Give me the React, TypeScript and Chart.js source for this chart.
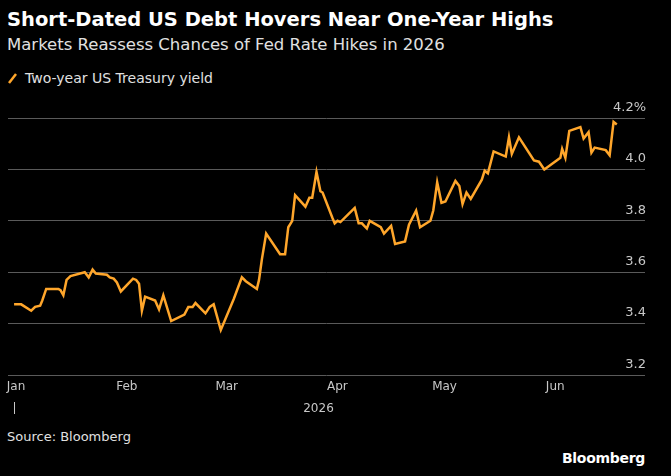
import { useEffect, useRef } from "react";
import { Chart, registerables } from "chart.js";

Chart.register(...registerables);

// day of year (Jan 1 = 0) and two-year yield
const days = [
  0, 2.0, 4.8, 5.9, 7.3, 7.9, 9.0, 12.4, 13.0, 13.8, 14.7, 15.8, 19.8, 20.9, 22.0, 22.9, 26.0, 26.8,
  27.9, 28.8, 29.9, 33.3, 34.2, 35.0, 35.8, 36.7, 39.5, 40.6, 41.8, 44.0, 47.7, 48.8, 50.0, 50.8,
  53.6, 54.8, 55.9, 57.9, 61.5, 63.8, 64.9, 68.0, 68.6, 69.4, 70.6, 74.5, 75.9, 76.8, 77.9, 78.7,
  81.6, 82.7, 83.5, 84.7, 85.8, 86.4, 89.2, 89.8, 90.6, 91.4, 95.4, 96.5, 97.4, 98.8, 99.6, 102.7,
  103.6, 105.6, 106.7, 109.5, 110.6, 112.6, 113.7, 116.6, 117.4, 118.5, 119.7, 120.8, 123.6, 124.7,
  125.6, 126.7, 127.9, 131.0, 131.8, 132.7, 134.3, 137.7, 138.6, 139.4, 141.4, 145.6, 147.0, 148.5,
  153.0, 153.5, 154.4, 155.5, 158.6, 159.5, 160.9, 161.7, 162.6, 165.7, 166.8, 167.9, 168.8,
];
const yields = [
  3.475, 3.475, 3.45, 3.465, 3.47, 3.49, 3.535, 3.535, 3.53, 3.51, 3.57, 3.585, 3.6, 3.58, 3.61,
  3.595, 3.59, 3.58, 3.575, 3.56, 3.525, 3.575, 3.57, 3.555, 3.45, 3.505, 3.49, 3.455, 3.51, 3.41,
  3.435, 3.465, 3.465, 3.48, 3.44, 3.465, 3.475, 3.375, 3.495, 3.58, 3.565, 3.535, 3.57, 3.65, 3.75,
  3.67, 3.67, 3.775, 3.8, 3.9, 3.855, 3.89, 3.89, 3.99, 3.915, 3.91, 3.81, 3.79, 3.8, 3.795, 3.85,
  3.79, 3.79, 3.77, 3.8, 3.775, 3.75, 3.78, 3.71, 3.72, 3.785, 3.84, 3.775, 3.8, 3.84, 3.95, 3.87,
  3.875, 3.955, 3.935, 3.865, 3.91, 3.885, 3.96, 3.995, 3.985, 4.07, 4.05, 4.125, 4.06, 4.125,
  4.035, 4.03, 4.0, 4.045, 4.08, 4.045, 4.15, 4.165, 4.12, 4.145, 4.065, 4.085, 4.075, 4.055,
  4.185, 4.175,
];
const monthDays = [0, 31, 59, 90, 120, 151];
const monthLabels = ["Jan", "Feb", "Mar", "Apr", "May", "Jun"];
const yTicks = [3.2, 3.4, 3.6, 3.8, 4.0, 4.2];

const FONT = "'DejaVu Sans', sans-serif";
const ORANGE = "#ffa62b";

const App = () => {
  const canvasRef = useRef<HTMLCanvasElement>(null);

  useEffect(() => {
    if (!canvasRef.current) return;

    const labelsPlugin = {
      id: "labels",
      afterDraw(chart: any) {
        const { ctx, chartArea } = chart;
        const x = chart.scales.x;
        const y = chart.scales.y;
        ctx.save();
        ctx.font = `13px ${FONT}`;
        ctx.fillStyle = "#c8c8c8";
        ctx.textAlign = "right";
        ctx.textBaseline = "bottom";
        yTicks.forEach((v) => {
          const txt = v === 4.2 ? "4.2%" : v.toFixed(1);
          ctx.fillText(txt, chartArea.right + 1, y.getPixelForValue(v) - 4);
        });
        ctx.font = `12px ${FONT}`;
        ctx.textAlign = "center";
        ctx.textBaseline = "middle";
        monthDays.forEach((d, i) => {
          ctx.fillText(monthLabels[i], x.getPixelForValue(d) + 2, chartArea.bottom + 12);
        });
        ctx.fillText("2026", (chartArea.left + chartArea.right) / 2 - 8, chartArea.bottom + 34);
        ctx.strokeStyle = "#c8c8c8";
        ctx.lineWidth = 1;
        ctx.beginPath();
        const x0 = Math.round(x.getPixelForValue(0)) + 0.5;
        ctx.moveTo(x0, chartArea.bottom + 27);
        ctx.lineTo(x0, chartArea.bottom + 39);
        ctx.stroke();
        ctx.restore();
      },
    };

    const myChart = new Chart(canvasRef.current, {
      type: "line",
      data: {
        datasets: [
          {
            label: "Two-year US Treasury yield",
            data: days.map((d, i) => ({ x: d, y: yields[i] })),
            borderColor: ORANGE,
            borderWidth: 2.5,
            pointRadius: 0,
            tension: 0,
          },
        ],
      },
      options: {
        animation: false,
        responsive: false,
        layout: { padding: { left: 8, right: 26, top: 23, bottom: 50 } },
        plugins: { legend: { display: false }, tooltip: { enabled: false } },
        scales: {
          x: {
            type: "linear",
            min: -1.7,
            max: 176.7,
            display: false,
          },
          y: {
            position: "right",
            min: 3.2,
            max: 4.2,
            afterBuildTicks: (axis: any) => {
              axis.ticks = yTicks.map((v) => ({ value: v }));
            },
            ticks: { display: false },
            grid: { color: "#5a5a5a", lineWidth: 1, drawTicks: false },
            border: { display: false },
          },
        },
      },
      plugins: [labelsPlugin],
    });

    return () => {
      myChart.destroy();
    };
  }, []);

  return (
    <div
      style={{
        position: "fixed",
        inset: 0,
        background: "#000",
        fontFamily: FONT,
        color: "#fff",
      }}
    >
      <div style={{ position: "absolute", left: 7, top: 8, fontSize: 19.5, fontWeight: 700 }}>
        Short-Dated US Debt Hovers Near One-Year Highs
      </div>
      <div style={{ position: "absolute", left: 7, top: 35, fontSize: 16.5, color: "#e0e0e0" }}>
        Markets Reassess Chances of Fed Rate Hikes in 2026
      </div>
      <div
        style={{
          position: "absolute",
          left: 7,
          top: 70,
          fontSize: 14,
          color: "#e0e0e0",
          display: "flex",
          alignItems: "center",
        }}
      >
        <svg width="12" height="14" style={{ marginRight: 6 }}>
          <line x1="2" y1="12" x2="9" y2="3" stroke={ORANGE} strokeWidth="2.5" />
        </svg>
        Two-year US Treasury yield
      </div>
      <canvas
        ref={canvasRef}
        width={671}
        height={330}
        style={{ position: "absolute", left: 0, top: 95, width: 671, height: 330 }}
      />
      <div style={{ position: "absolute", left: 7, top: 429, fontSize: 13, color: "#e0e0e0" }}>
        Source: Bloomberg
      </div>
      <div
        style={{ position: "absolute", right: 26, top: 450, fontSize: 14, fontWeight: 700, letterSpacing: -0.3 }}
      >
        Bloomberg
      </div>
    </div>
  );
};

export default App;
